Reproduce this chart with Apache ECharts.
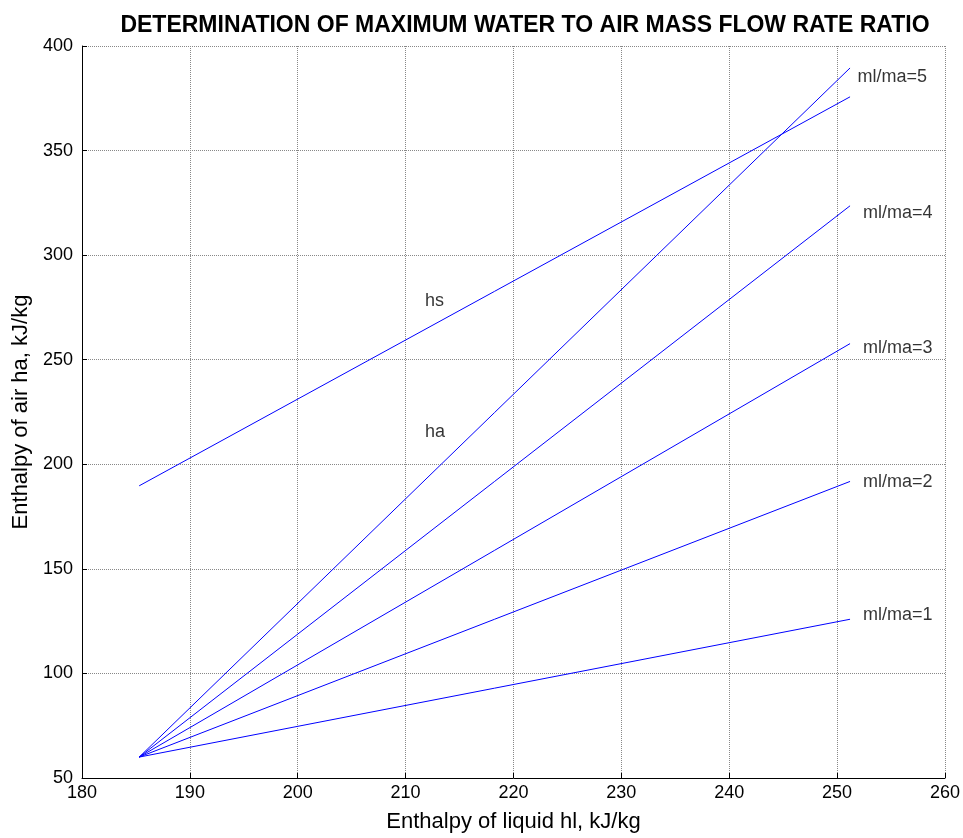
<!DOCTYPE html>
<html><head><meta charset="utf-8">
<script src="https://cdn.jsdelivr.net/npm/echarts@6/dist/echarts.min.js"></script>
<style>html,body{margin:0;padding:0;background:#fff}#c{width:963px;height:838px}</style>
</head><body><div id="c"></div>
<script>
const hlStart = 185.3, hlEnd = 251.2;
const haStart = 60;
const ratios = [1, 2, 3, 4, 5];
const haEnd = [125.9, 191.8, 257.7, 323.6, 389.5];
const hsLine = [[185.3, 189.7], [251.2, 375.7]];
const ratioLabels = ['ml/ma=1', 'ml/ma=2', 'ml/ma=3', 'ml/ma=4', 'ml/ma=5'];
const ratioLabelPos = [[252.4, 127.7], [252.4, 191.6], [252.4, 255.5], [252.4, 320], [251.9, 385]];
const curveLabels = [['hs', 211.8, 278], ['ha', 211.8, 215.5]];
const xTicks = [180, 190, 200, 210, 220, 230, 240, 250, 260];
const yTicks = [50, 100, 150, 200, 250, 300, 350, 400];

const font = 'Liberation Sans, Arial, sans-serif';
const series = [];
ratios.forEach((r, i) => {
  series.push({type: 'line', data: [[hlStart, haStart], [hlEnd, haEnd[i]]], symbol: 'none',
    lineStyle: {color: '#0000ff', width: 1}, silent: true});
});
series.push({type: 'line', data: hsLine, symbol: 'none', lineStyle: {color: '#0000ff', width: 1}, silent: true});
series.push({type: 'scatter', symbolSize: 0, silent: true,
  data: ratioLabelPos.map((p, i) => ({value: p, name: ratioLabels[i]}))
    .concat(curveLabels.map(c => ({value: [c[1], c[2]], name: c[0]}))),
  label: {show: true, position: 'right', distance: 0, formatter: p => p.name,
    color: '#000', fontSize: 18, fontFamily: font}});

const chart = echarts.init(document.getElementById('c'));
chart.setOption({
  animation: false,
  title: {text: 'DETERMINATION OF MAXIMUM WATER TO AIR MASS FLOW RATE RATIO', left: 520, textAlign: 'center', top: 9,
    textStyle: {fontSize: 23, fontWeight: 'bold', color: '#000', fontFamily: font}},
  grid: {left: 82, right: 16, top: 46, bottom: 58},
  xAxis: {type: 'value', min: 180, max: 260, interval: 10,
    name: 'Enthalpy of liquid hl, kJ/kg', nameLocation: 'middle', nameGap: 33,
    nameTextStyle: {fontSize: 22, color: '#000', fontFamily: font},
    axisLine: {lineStyle: {color: '#000', width: 1}},
    axisTick: {inside: true, length: 5, lineStyle: {color: '#000'}},
    axisLabel: {fontSize: 18, color: '#000', fontFamily: font, margin: 6},
    splitLine: {show: true, lineStyle: {color: '#888', type: [1, 1], width: 1}}},
  yAxis: {type: 'value', min: 50, max: 400, interval: 50,
    name: 'Enthalpy of air ha, kJ/kg', nameLocation: 'middle', nameGap: 46,
    nameTextStyle: {fontSize: 22, color: '#000', fontFamily: font},
    axisLine: {show: true, lineStyle: {color: '#000', width: 1}},
    axisTick: {show: true, inside: true, length: 5, lineStyle: {color: '#000'}},
    axisLabel: {fontSize: 18, color: '#000', fontFamily: font, margin: 9},
    splitLine: {show: true, lineStyle: {color: '#888', type: [1, 1], width: 1}}},
  series: series
});
</script></body></html>
